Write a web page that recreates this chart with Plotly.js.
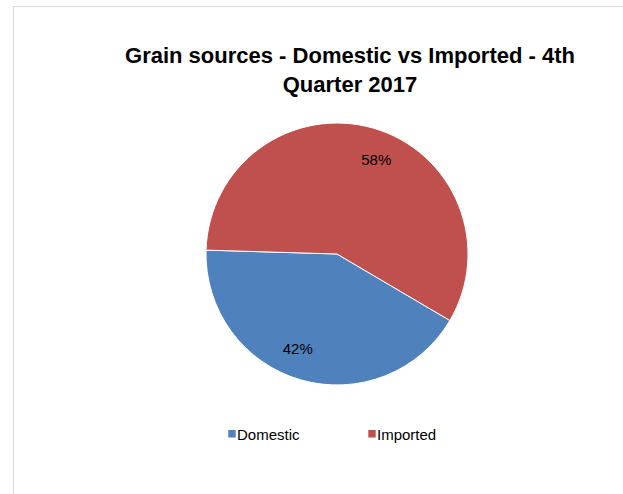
<!DOCTYPE html>
<html>
<head>
<meta charset="utf-8">
<script src="https://cdn.plot.ly/plotly-3.0.1.min.js"></script>
<style>
html, body { margin: 0; padding: 0; background: #ffffff; }
#frame { position: absolute; left: 13px; top: 6px; width: 700px; height: 600px;
  border-left: 1px solid #d9d9d9; border-top: 1px solid #d9d9d9; }
#chart { position: absolute; left: 0; top: 0; width: 623px; height: 494px; }
</style>
</head>
<body>
<div id="frame"></div>
<div id="chart"></div>
<script>
const categories = ["Domestic", "Imported"];
const shares = [42, 58];
const sliceColors = ["#4F81BD", "#C0504D"];
const titleText = "Grain sources - Domestic vs Imported - 4th<br>Quarter 2017";

const W = 623, H = 494;
const cx = 337, cy = 254, r = 131;
const pieDomain = { x: [(cx - r) / W, (cx + r) / W], y: [1 - (cy + r) / H, 1 - (cy - r) / H] };
const fontFam = "Liberation Sans, Arial, sans-serif";

const pieTrace = {
  type: "pie",
  labels: categories,
  values: shares,
  sort: false,
  direction: "clockwise",
  rotation: 120.5,
  marker: { colors: sliceColors, line: { color: "#ffffff", width: 1 } },
  textposition: "none",
  hoverinfo: "label+percent",
  domain: pieDomain
};

// transparent ring used only to place the percentage labels near the rim
const labelTrace = {
  type: "pie",
  labels: categories,
  values: shares,
  sort: false,
  direction: "clockwise",
  rotation: 127,
  hole: 0.56,
  showlegend: false,
  marker: { colors: ["rgba(0,0,0,0)", "rgba(0,0,0,0)"], line: { width: 0 } },
  texttemplate: "%{percent:.0%}",
  textposition: "inside",
  insidetextorientation: "horizontal",
  textfont: { family: fontFam, size: 15, color: "#000000" },
  hoverinfo: "skip",
  domain: pieDomain
};

const layout = {
  width: W, height: H,
  margin: { l: 0, r: 0, t: 0, b: 0, autoexpand: false },
  paper_bgcolor: "rgba(0,0,0,0)",
  plot_bgcolor: "rgba(0,0,0,0)",
  font: { family: fontFam, color: "#000000" },
  title: {
    text: titleText,
    font: { family: fontFam, size: 22, color: "#000000", weight: "bold" },
    x: 350 / W, xanchor: "center", xref: "paper",
    y: 1 - 63 / H, yanchor: "top", yref: "container"
  },
  showlegend: true,
  legend: {
    orientation: "h",
    x: 197 / W, xanchor: "left",
    y: 1 - 434 / H, yanchor: "middle",
    font: { family: fontFam, size: 15, color: "#000000" },
    entrywidth: 95,
    bgcolor: "rgba(0,0,0,0)"
  }
};

Plotly.newPlot("chart", [pieTrace, labelTrace], layout, { displayModeBar: false, staticPlot: true }).then(function (gd) {
  // compact square legend keys placed right next to their labels
  gd.querySelectorAll("path.legendpie").forEach(function (p) {
    p.setAttribute("d", "M3.7,3.7H-3.7V-3.7H3.7Z");
    p.setAttribute("transform", "translate(35,0)");
    p.style.strokeWidth = "0px";
  });
});
</script>
</body>
</html>
